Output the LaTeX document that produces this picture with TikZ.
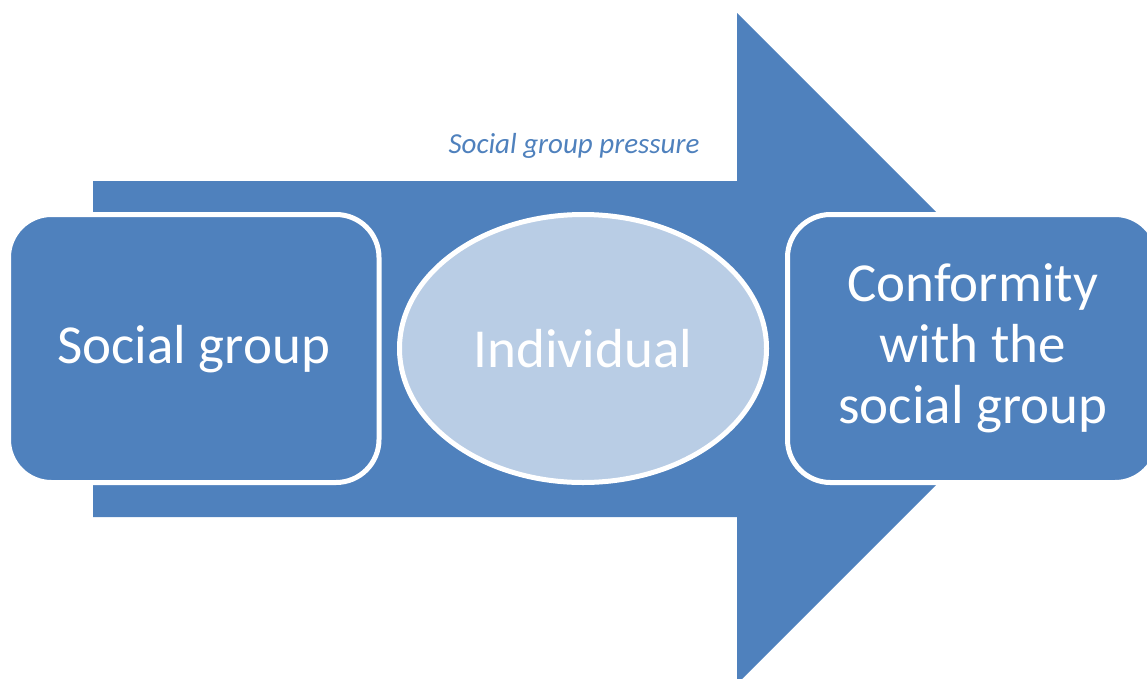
\documentclass[tikz,border=0pt]{standalone}
\usepackage{fontspec}
\setmainfont{Carlito}
\usetikzlibrary{shapes.geometric}
\definecolor{flowblue}{HTML}{4F81BD}
\definecolor{paleblue}{HTML}{B9CDE5}
\tikzset{
  stagebox/.style={draw=white, line width=5pt, fill=flowblue, rounded corners=43pt,
    minimum width=370.5pt, minimum height=268pt, inner sep=0pt,
    text=white, font=\fontsize{55}{61}\selectfont, align=center},
  personoval/.style={ellipse, draw=white, line width=5pt, fill=paleblue,
    minimum width=367pt, minimum height=268pt, inner sep=0pt,
    text=white, font=\fontsize{55}{61}\selectfont},
  pressurelabel/.style={text=flowblue, font=\fontsize{29}{34}\selectfont\itshape,
    inner sep=0pt, anchor=base}
}
\begin{document}
\begin{tikzpicture}[x=1pt, y=-1pt]
  \useasboundingbox (0,0) rectangle (1147,678);
  \clip (0,0) rectangle (1147,678);
  % broad arrow behind the three stages
  \fill[flowblue] (93,181) -- (737,181) -- (737,13) -- (1072.5,348.5)
    -- (737,684) -- (737,517) -- (93,517) -- cycle;
  \node[pressurelabel] (pressure) at (574,153) {Social group pressure};
  % stages
  \node[stagebox, text depth=8pt] (group) at (193.75,348.5) {Social group};
  \node[personoval] (person) at (583,348.5) {Individual};
  \node[stagebox] (conform) at (972.75,348.5) {Conformity\\with the\\social group};
\end{tikzpicture}
\end{document}
